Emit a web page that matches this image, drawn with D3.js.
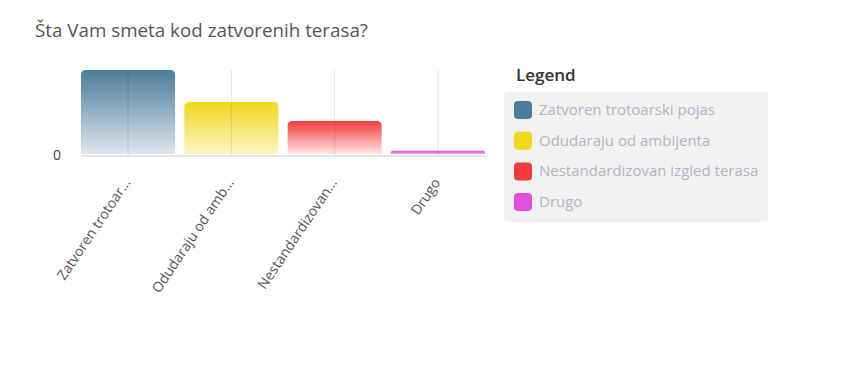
<!DOCTYPE html>
<html>
<head>
<meta charset="utf-8">
<style>
body { margin: 0; background: #fff; font-family: "Open Sans", sans-serif; }
</style>
</head>
<body>
<svg width="850" height="391"></svg>
<script src="https://d3js.org/d3.v7.min.js"></script>
<script>
var title = "Šta Vam smeta kod zatvorenih terasa?";
var categories = ["Zatvoren trotoarski pojas", "Odudaraju od ambijenta", "Nestandardizovan izgled terasa", "Drugo"];
var shortLabels = ["Zatvoren trotoar…", "Odudaraju od amb…", "Nestandardizovan…", "Drugo"];
var values = [16, 10, 6.4, 0.8];
var colors = ["#4b7d9a", "#f0d81c", "#f03c3c", "#e24fd8"];
var lightColors = ["#dde6ed", "#fbf5c6", "#ffe6e6", "#f2a0ea"];

var svg = d3.select("svg");

svg.append("text")
    .attr("x", 35)
    .attr("y", 37)
    .attr("font-size", 18.8)
    .attr("fill", "#555")
    .text(title);

var x = d3.scaleBand()
    .domain(categories)
    .range([81, 485])
    .paddingInner(0.09)
    .paddingOuter(0);

var y = d3.scaleLinear()
    .domain([0, d3.max(values)])
    .range([155, 70]);

// gradients
var defs = svg.append("defs");
colors.forEach(function(c, i) {
  var grad = defs.append("linearGradient")
      .attr("id", "g" + i)
      .attr("x1", 0).attr("y1", 0).attr("x2", 0).attr("y2", 1);
  grad.append("stop").attr("offset", "0%").attr("stop-color", c);
  grad.append("stop").attr("offset", "100%").attr("stop-color", lightColors[i]);
});

// bars
svg.append("g").selectAll("path")
  .data(values)
  .enter().append("path")
    .attr("fill", function(d, i) { return "url(#g" + i + ")"; })
    .attr("d", function(d, i) {
      var x0 = x(categories[i]), w = x.bandwidth();
      var top = y(d), bot = y(0) - 1;
      var r = Math.min(5, (bot - top) / 2);
      return "M" + x0 + "," + bot +
             "V" + (top + r) +
             "Q" + x0 + "," + top + " " + (x0 + r) + "," + top +
             "H" + (x0 + w - r) +
             "Q" + (x0 + w) + "," + top + " " + (x0 + w) + "," + (top + r) +
             "V" + bot + "Z";
    });

// vertical grid lines through band centres
svg.append("g").selectAll("line")
  .data(categories)
  .enter().append("line")
    .attr("x1", function(d) { return x(d) + x.bandwidth() / 2; })
    .attr("x2", function(d) { return x(d) + x.bandwidth() / 2; })
    .attr("y1", 70)
    .attr("y2", 155)
    .attr("stroke", "#000")
    .attr("stroke-opacity", 0.1)
    .attr("stroke-width", 1);

// x axis
var xAxis = svg.append("g")
    .attr("transform", "translate(0,155.5)")
    .call(d3.axisBottom(x).tickSize(0).tickFormat(function(d, i) { return shortLabels[i]; }));
xAxis.select(".domain").attr("stroke", "#ddd").attr("stroke-width", 1.5);
xAxis.selectAll("text")
    .attr("font-family", "Open Sans, sans-serif")
    .attr("font-size", 14)
    .attr("fill", "#555")
    .attr("text-anchor", "end")
    .attr("y", 0)
    .attr("dx", 0)
    .attr("dy", 0)
    .attr("transform", "translate(3,27) rotate(-56)");

// y axis, only zero
var yAxis = svg.append("g")
    .attr("transform", "translate(64,0)")
    .call(d3.axisLeft(y).tickValues([0]).tickSize(0));
yAxis.select(".domain").remove();
yAxis.selectAll("text")
    .attr("font-family", "Open Sans, sans-serif")
    .attr("font-size", 14)
    .attr("fill", "#444");

// legend
var legend = svg.append("g");
legend.append("text")
    .attr("x", 516)
    .attr("y", 81)
    .attr("font-size", 17)
    .attr("font-weight", 600)
    .attr("fill", "#333")
    .text("Legend");
legend.append("rect")
    .attr("x", 504).attr("y", 92)
    .attr("width", 264).attr("height", 130)
    .attr("rx", 4)
    .attr("fill", "#f1f1f1");
var item = legend.selectAll("g.item")
  .data(categories)
  .enter().append("g")
    .attr("class", "item")
    .attr("transform", function(d, i) { return "translate(514," + (101 + i * 30.7) + ")"; });
item.append("rect")
    .attr("width", 18).attr("height", 18).attr("rx", 4)
    .attr("fill", function(d, i) { return colors[i]; });
item.append("text")
    .attr("x", 25)
    .attr("y", 14)
    .attr("font-size", 15)
    .attr("fill", "#b1b6c4")
    .text(function(d) { return d; });
</script>
</body>
</html>
